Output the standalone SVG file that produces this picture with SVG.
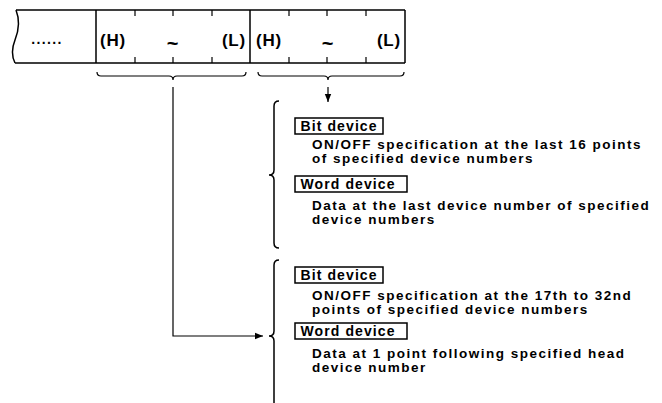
<svg xmlns="http://www.w3.org/2000/svg" width="662" height="403" viewBox="0 0 662 403">
<defs>
<style>
text{font-family:"Liberation Sans",Arial,Helvetica,sans-serif;font-weight:bold;fill:#000;}
.band{font-size:17px;letter-spacing:0.8px;}
.tl{font-size:20px;}
.lbl{font-size:14px;letter-spacing:1.1px;}
.desc{font-size:13.5px;letter-spacing:1.5px;}
.ln{stroke:#000;stroke-width:1.5;fill:none;}
.thin{stroke:#000;stroke-width:1.2;fill:none;}
.box{stroke:#000;stroke-width:1.5;fill:#fff;}
</style>
<marker id="ah" viewBox="0 0 10 10" refX="10" refY="5" markerWidth="8" markerHeight="8" markerUnits="userSpaceOnUse" orient="auto">
<path d="M0,1 L10,5 L0,9 Z" fill="#000"/>
</marker>
</defs>
<rect width="662" height="403" fill="#fff"/>

<g id="band">
<path class="ln" d="M16,10 L405,10 M15,63 L405,63"/>
<path class="ln" d="M16,10 C20,20 19,30 15,40 C11,50 12,57 15,63"/>
<path class="ln" d="M96,10 V63 M250,10 V63 M405,10 V63"/>
<path class="thin" d="M135,10 V16 M173,10 V16 M212,10 V16 M289,10 V16 M327,10 V16 M366,10 V16 M135,57 V63 M173,57 V63 M212,57 V63 M289,57 V63 M327,57 V63 M366,57 V63"/>
<text x="47" y="44" text-anchor="middle" style="font-size:14px;letter-spacing:1.4px">......</text>
<text class="band" x="100" y="46">(H)</text>
<text class="band tl" x="173" y="50" text-anchor="middle">~</text>
<text class="band" x="246" y="46" text-anchor="end">(L)</text>
<text class="band" x="256" y="46">(H)</text>
<text class="band tl" x="328" y="50" text-anchor="middle">~</text>
<text class="band" x="401" y="46" text-anchor="end">(L)</text>
</g>

<g id="braces">
<path class="thin" d="M97,72 Q97,76 101,76 L169,76 Q173,76 173,80 Q173,76 177,76 L242,76 Q246,76 246,72"/>
<path class="thin" d="M258,72 Q258,76 262,76 L324,76 Q328,76 328,80 Q328,76 332,76 L400,76 Q404,76 404,72"/>
<path class="ln" d="M279,101 Q274,101 274,106 L274,170 Q274,175 269,175 Q274,175 274,180 L274,243 Q274,248 279,248"/>
<path class="ln" d="M279,260 Q274,260 274,265 L274,331 Q274,336 269,336 Q274,336 274,341 L274,404"/>
</g>

<g id="connectors">
<path class="thin" d="M328,87 V102" marker-end="url(#ah)"/>
<path class="thin" d="M173,87 V336 H263" marker-end="url(#ah)"/>
</g>

<g id="group1">
<g id="bit1">
<rect class="box" x="295" y="118" width="88" height="16"/>
<text class="lbl" x="300.5" y="130.5">Bit device</text>
</g>
<text class="desc" x="312" y="149">ON/OFF specification at the last 16 points</text>
<text class="desc" x="312" y="163">of specified device numbers</text>
<g id="word1">
<rect class="box" x="295" y="176" width="112" height="16"/>
<text class="lbl" x="300.5" y="188.5">Word device</text>
</g>
<text class="desc" x="312" y="210">Data at the last device number of specified</text>
<text class="desc" x="312" y="224">device numbers</text>
</g>

<g id="group2">
<g id="bit2">
<rect class="box" x="295" y="267" width="88" height="16"/>
<text class="lbl" x="300.5" y="279.5">Bit device</text>
</g>
<text class="desc" x="312" y="300">ON/OFF specification at the 17th to 32nd</text>
<text class="desc" x="312" y="314">points of specified device numbers</text>
<g id="word2">
<rect class="box" x="295" y="323" width="112" height="16"/>
<text class="lbl" x="300.5" y="335.5">Word device</text>
</g>
<text class="desc" x="312" y="358">Data at 1 point following specified head</text>
<text class="desc" x="312" y="372">device number</text>
</g>
</svg>
